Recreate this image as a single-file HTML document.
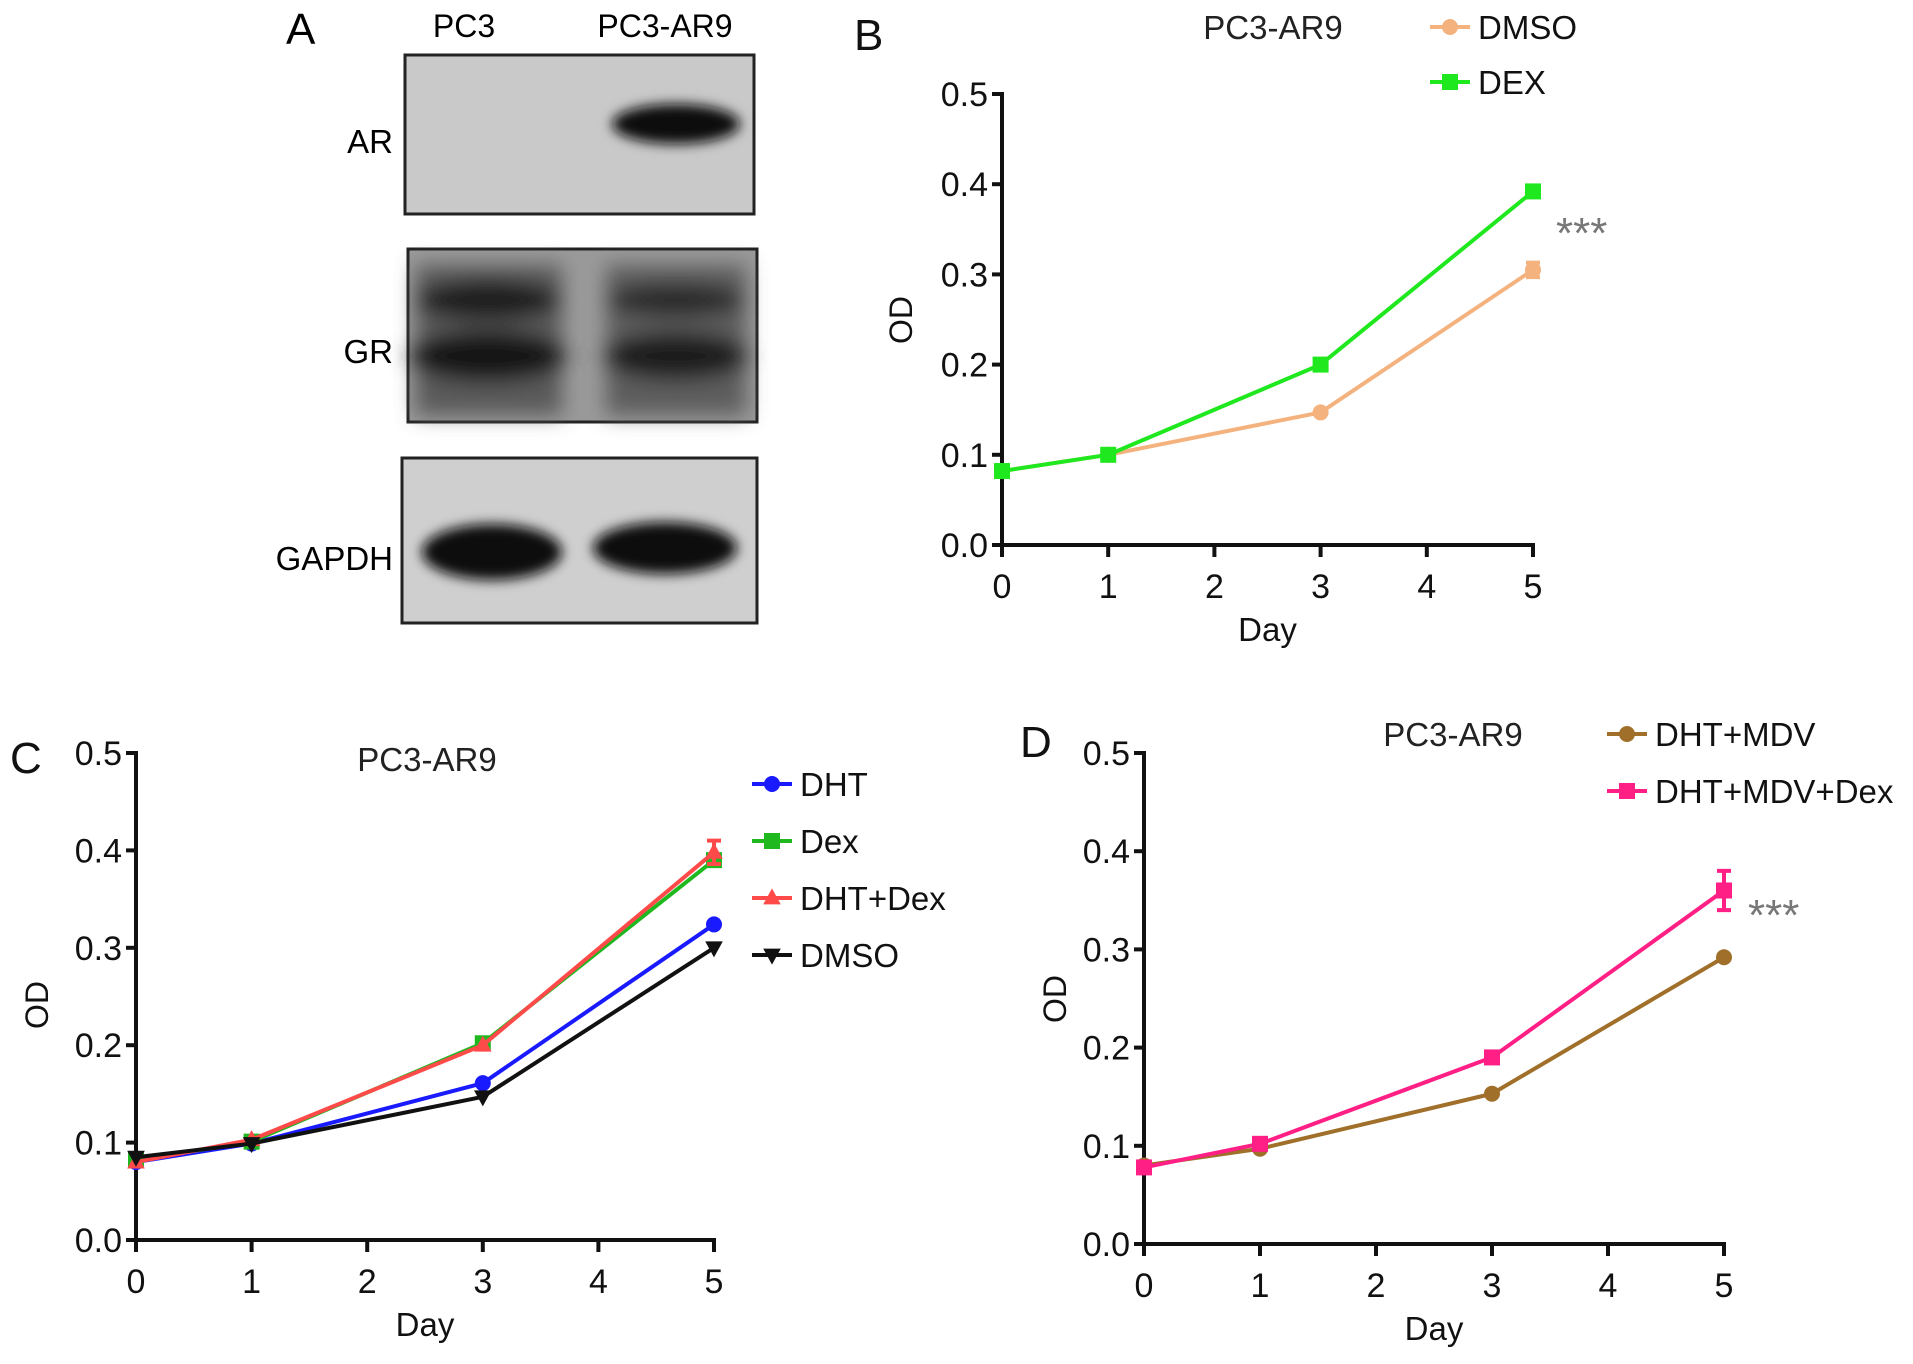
<!DOCTYPE html>
<html><head><meta charset="utf-8"><style>
html,body{margin:0;padding:0;background:#fff;}
svg{display:block;font-family:"Liberation Sans",Arial,sans-serif;}
</style></head><body>
<svg id="fig" width="1913" height="1364" viewBox="0 0 1913 1364">
<defs>
<filter id="blur6" x="-30%" y="-60%" width="160%" height="220%"><feGaussianBlur stdDeviation="6"/></filter>
<filter id="blur10" x="-30%" y="-60%" width="160%" height="220%"><feGaussianBlur stdDeviation="10"/></filter>
</defs>
<rect width="1913" height="1364" fill="#fff"/>
<g>
<text x="286" y="44" font-size="44">A</text>
<text x="464" y="37" font-size="32" text-anchor="middle">PC3</text>
<text x="665" y="37" font-size="32" text-anchor="middle">PC3-AR9</text>
<text x="393" y="153" font-size="33" text-anchor="end">AR</text>
<text x="393" y="363" font-size="33" text-anchor="end">GR</text>
<text x="393" y="570" font-size="33" text-anchor="end">GAPDH</text>
<g>
<rect x="405" y="55" width="349" height="159" fill="#c9c9c9" stroke="#222" stroke-width="3"/>
<g filter="url(#blur6)"><ellipse cx="676" cy="124" rx="64" ry="20" fill="#111"/></g>
</g>
<g>
<rect x="408" y="249" width="349" height="173" fill="#9a9a9a" stroke="#222" stroke-width="3"/>
<g filter="url(#blur10)">
<rect x="416" y="265" width="146" height="150" fill="#5a5a5a"/>
<rect x="606" y="265" width="140" height="150" fill="#5d5d5d"/>
<ellipse cx="488" cy="300" rx="72" ry="20" fill="#1a1a1a"/>
<ellipse cx="488" cy="356" rx="78" ry="26" fill="#151515"/>
<ellipse cx="676" cy="300" rx="68" ry="16" fill="#262626"/>
<ellipse cx="676" cy="356" rx="72" ry="24" fill="#1a1a1a"/>
</g>
</g>
<g>
<rect x="402" y="458" width="355" height="165" fill="#cfcfcf" stroke="#222" stroke-width="3"/>
<g filter="url(#blur6)">
<ellipse cx="492" cy="552" rx="70" ry="28" fill="#0a0a0a"/>
<ellipse cx="665" cy="548" rx="72" ry="26" fill="#0a0a0a"/>
</g>
</g>
</g>
<g id="charts"></g>
</svg>
<script>
const daysB = [0, 1, 3, 5];
const bDmso = [0.082, 0.100, 0.147, 0.305];
const bDmsoErr = [0, 0, 0, 0.008];
const bDex = [0.082, 0.100, 0.200, 0.392];
const bDexErr = [0, 0, 0, 0.006];
const daysC = [0, 1, 3, 5];
const cDht = [0.080, 0.099, 0.161, 0.324];
const cDex = [0.082, 0.101, 0.202, 0.390];
const cDhtDex = [0.080, 0.103, 0.200, 0.398];
const cDhtDexErr = [0, 0, 0, 0.012];
const cDmso = [0.085, 0.099, 0.147, 0.300];
const daysD = [0, 1, 3, 5];
const dMdv = [0.080, 0.097, 0.153, 0.292];
const dMdvDex = [0.078, 0.102, 0.190, 0.360];
const dMdvDexErr = [0, 0, 0, 0.020];
const yTicks = [0.0, 0.1, 0.2, 0.3, 0.4, 0.5];
const yTickLabels = ["0.0", "0.1", "0.2", "0.3", "0.4", "0.5"];
const xTicks = [0, 1, 2, 3, 4, 5];
const xTickLabels = ["0", "1", "2", "3", "4", "5"];

const NS = "http://www.w3.org/2000/svg";
const root = document.getElementById("charts");
function mk(tag, attrs, parent) {
  const e = document.createElementNS(NS, tag);
  for (const k in attrs) e.setAttribute(k, attrs[k]);
  (parent || root).appendChild(e);
  return e;
}
function marker(g, shape, x, y, color, s) {
  let m;
  if (shape === "circle") m = mk("circle", {cx: x, cy: y, r: s, fill: color}, g);
  else if (shape === "square") m = mk("rect", {x: x - s, y: y - s, width: 2 * s, height: 2 * s, fill: color}, g);
  else if (shape === "tri") m = mk("polygon", {points: `${x},${y - s * 1.2} ${x - s * 1.1},${y + s * 0.8} ${x + s * 1.1},${y + s * 0.8}`, fill: color}, g);
  else m = mk("polygon", {points: `${x},${y + s * 1.2} ${x - s * 1.1},${y - s * 0.8} ${x + s * 1.1},${y - s * 0.8}`, fill: color}, g);
  return m;
}
function chart(cfg) {
  const g = mk("g", {});
  
  
  const xs = v => cfg.x0 + (v / 5) * (cfg.x5 - cfg.x0);
  const ys = v => cfg.y0 + (v / 0.5) * (cfg.y5 - cfg.y0);
  const ax = mk("g", {stroke: "#111", "stroke-width": 4}, g);
  
  
  mk("line", {x1: cfg.x0, y1: cfg.y5 - 2, x2: cfg.x0, y2: cfg.y0 + 2}, ax);
  mk("line", {x1: cfg.x0 - 2, y1: cfg.y0, x2: cfg.x5 + 2, y2: cfg.y0}, ax);
  yTicks.forEach((t, i) => {
    mk("line", {x1: cfg.x0 - 10, y1: ys(t), x2: cfg.x0, y2: ys(t)}, ax);
    const tl = mk("text", {x: cfg.x0 - 14, y: ys(t) + 12, "font-size": 34, "text-anchor": "end", fill: "#111"}, g);
    tl.textContent = yTickLabels[i];
    
    
  });
  xTicks.forEach((t, i) => {
    mk("line", {x1: xs(t), y1: cfg.y0, x2: xs(t), y2: cfg.y0 + 12}, ax);
    const tl = mk("text", {x: xs(t), y: cfg.y0 + 53, "font-size": 34, "text-anchor": "middle", fill: "#111"}, g);
    tl.textContent = xTickLabels[i];
    
    
  });
  const yt = mk("text", {x: 0, y: 0, "font-size": 32, "text-anchor": "middle", transform: `translate(${cfg.odx},${cfg.ody}) rotate(-90)`, fill: "#111"}, g);
  yt.textContent = "OD";
  
  
  const xt = mk("text", {x: (cfg.x0 + cfg.x5) / 2, y: cfg.y0 + 96, "font-size": 33, "text-anchor": "middle", fill: "#111"}, g);
  xt.textContent = "Day";
  
  
  const pl = mk("text", {x: cfg.lx, y: cfg.ly, "font-size": 44, fill: "#111"}, g);
  pl.textContent = cfg.label;
  
  
  const tt = mk("text", {x: cfg.tx, y: cfg.ty, "font-size": 33, "text-anchor": "middle", fill: "#222"}, g);
  tt.textContent = "PC3-AR9";
  
  
  cfg.series.forEach(s => {
    const sg = mk("g", {}, g);
    
    
    const pts = s.days.map((d, i) => `${xs(d)},${ys(s.vals[i])}`).join(" ");
    const ln = mk("polyline", {points: pts, fill: "none", stroke: s.color, "stroke-width": 4, "stroke-linejoin": "round"}, sg);
    
    
    s.days.forEach((d, i) => {
      const e = s.err ? s.err[i] : 0;
      if (e > 0) {
        const eb = mk("path", {d: `M${xs(d)},${ys(s.vals[i] + e)}V${ys(s.vals[i] - e)}M${xs(d) - 7},${ys(s.vals[i] + e)}H${xs(d) + 7}M${xs(d) - 7},${ys(s.vals[i] - e)}H${xs(d) + 7}`, stroke: s.color, "stroke-width": 4, fill: "none"}, sg);
        
        
      }
      const m = marker(sg, s.shape, xs(d), ys(s.vals[i]), s.color, 8);
      
      
    });
  });
  cfg.series.forEach((s, i) => {
    const lg = mk("g", {}, g);
    
    
    const ly = cfg.legY + i * cfg.legDy;
    mk("line", {x1: cfg.legX - 20, y1: ly, x2: cfg.legX + 20, y2: ly, stroke: s.color, "stroke-width": 4}, lg);
    marker(lg, s.shape, cfg.legX, ly, s.color, 8);
    const t = mk("text", {x: cfg.legX + 28, y: ly + 12, "font-size": 33, fill: "#111"}, lg);
    t.textContent = s.name;
  });
  if (cfg.star) {
    const st = mk("text", {x: cfg.star[0], y: cfg.star[1], "font-size": 44, fill: "#777"}, g);
    st.textContent = "***";
    
    
  }
}
chart({name: "panel-b-chart", label: "B", lx: 854, ly: 50, x0: 1002, x5: 1533, y0: 545, y5: 94,
  odx: 912, ody: 320, tx: 1273, ty: 39, legX: 1450, legY: 27, legDy: 55, star: [1556, 248],
  series: [
    {id: "dmso", name: "DMSO", days: daysB, vals: bDmso, err: bDmsoErr, color: "#f4b27e", shape: "circle"},
    {id: "dex", name: "DEX", days: daysB, vals: bDex, err: bDexErr, color: "#1fe81f", shape: "square"}]});
chart({name: "panel-c-chart", label: "C", lx: 10, ly: 773, x0: 136, x5: 714, y0: 1240, y5: 753,
  odx: 48, ody: 1005, tx: 427, ty: 771, legX: 772, legY: 784, legDy: 57,
  series: [
    {id: "dht", name: "DHT", days: daysC, vals: cDht, color: "#1a1aff", shape: "circle"},
    {id: "dex", name: "Dex", days: daysC, vals: cDex, color: "#1fb81f", shape: "square"},
    {id: "dht-dex", name: "DHT+Dex", days: daysC, vals: cDhtDex, err: cDhtDexErr, color: "#ff4a4a", shape: "tri"},
    {id: "dmso", name: "DMSO", days: daysC, vals: cDmso, color: "#111", shape: "dtri"}]});
chart({name: "panel-d-chart", label: "D", lx: 1020, ly: 757, x0: 1144, x5: 1724, y0: 1244, y5: 753,
  odx: 1066, ody: 999, tx: 1453, ty: 746, legX: 1627, legY: 734, legDy: 57, star: [1748, 930],
  series: [
    {id: "dht-mdv", name: "DHT+MDV", days: daysD, vals: dMdv, color: "#a06f2a", shape: "circle"},
    {id: "dht-mdv-dex", name: "DHT+MDV+Dex", days: daysD, vals: dMdvDex, err: dMdvDexErr, color: "#ff1f85", shape: "square"}]});
</script>
</body></html>
